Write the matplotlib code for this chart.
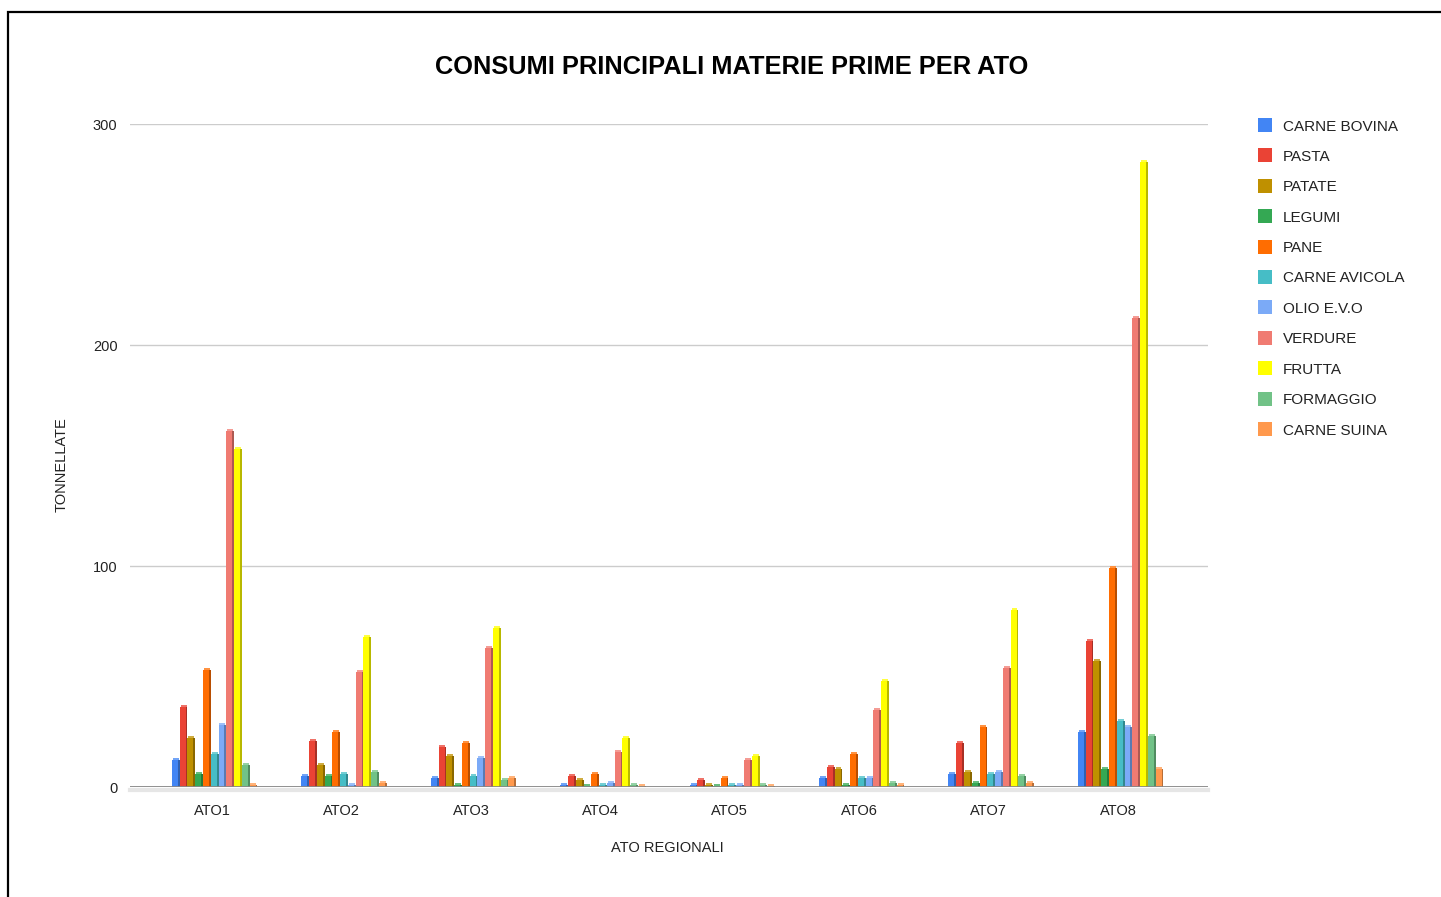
import numpy as np
import matplotlib
matplotlib.use('Agg')
import matplotlib.pyplot as plt
from matplotlib.colors import to_rgb
from matplotlib.patches import Rectangle

plt.rcParams['font.family'] = ['Liberation Sans', 'DejaVu Sans']

ato = ['ATO1', 'ATO2', 'ATO3', 'ATO4', 'ATO5', 'ATO6', 'ATO7', 'ATO8']

carne_bovina = [12, 5, 4, 1, 1, 4, 6, 25]
pasta = [36, 21, 18, 5, 3, 9, 20, 66]
patate = [22, 10, 14, 3, 1, 8, 7, 57]
legumi = [6, 5, 1, 0.5, 0.5, 1, 2, 8]
pane = [53, 25, 20, 6, 4, 15, 27, 99]
carne_avicola = [15, 6, 5, 1, 1, 4, 6, 30]
olio_evo = [28, 1, 13, 2, 1, 4, 7, 27]
verdure = [161, 52, 63, 16, 12, 35, 54, 212]
frutta = [153, 68, 72, 22, 14, 48, 80, 283]
formaggio = [10, 7, 3, 1, 1, 2, 5, 23]
carne_suina = [1, 2, 4, 0.5, 0.5, 1, 2, 8]

series_names = ['CARNE BOVINA', 'PASTA', 'PATATE', 'LEGUMI', 'PANE', 'CARNE AVICOLA',
                'OLIO E.V.O', 'VERDURE', 'FRUTTA', 'FORMAGGIO', 'CARNE SUINA']
series = [carne_bovina, pasta, patate, legumi, pane, carne_avicola,
          olio_evo, verdure, frutta, formaggio, carne_suina]
colors = ['#4285f4', '#ea4335', '#bf9000', '#34a853', '#ff6d01', '#46bdc6',
          '#7baaf7', '#f07b72', '#ffff00', '#71c287', '#ff994d']

fig = plt.figure(figsize=(14.41, 8.97), dpi=100)
W, H = 1441, 897
ax = fig.add_axes([130 / W, 1 - 787 / H, (1208 - 130) / W, (787 - 124) / H])

# frame around the chart
fig.patches.append(Rectangle((8 / W, -0.1), 1.2, 1 - 12 / H + 0.1, transform=fig.transFigure,
                             fill=False, edgecolor='black', linewidth=1.6, zorder=0))

x = np.arange(len(ato))
slot = 0.06
front = 0.046
side = 0.014
cap = 0.9
n = len(series)
for i, (vals, c) in enumerate(zip(series, colors)):
    pos = x + (i - (n - 1) / 2) * slot + 0.02
    rgb = to_rgb(c)
    dark = tuple(v * 0.72 for v in rgb)
    light = tuple(v + (1 - v) * 0.25 for v in rgb)
    ax.bar(pos - side / 2, vals, width=front, color=c, zorder=3, label=series_names[i])
    ax.bar(pos + front / 2, vals, width=side, color=dark, zorder=3)
    # little top face for the 3d look
    ax.bar(pos, [cap] * len(vals), bottom=vals, width=front, color=light, zorder=3)

ax.set_xlim(-0.634, 7.695)
ax.set_ylim(0, 300)
ax.set_yticks([0, 100, 200, 300])
ax.set_xticks(x)
ax.set_xticklabels(ato)
ax.grid(axis='y', color='#cccccc', linewidth=1, zorder=0)
ax.axhline(0, color='#888888', linewidth=2, zorder=4)
ax.axhline(-1.2, color='#e6e6e6', linewidth=3, zorder=1, clip_on=False)
for s in ax.spines.values():
    s.set_visible(False)
ax.tick_params(length=0, labelsize=10.5, colors='#222222', pad=9)
ax.tick_params(axis='x', pad=12)

fig.text(732 / W, 1 - 67 / H, 'CONSUMI PRINCIPALI MATERIE PRIME PER ATO', ha='center', va='center',
         fontsize=18.3, fontweight='bold', color='black')
fig.text(62 / W, 1 - 465 / H, 'TONNELLATE', rotation=90, ha='center', va='center',
         fontsize=10.5, color='#222222')
fig.text(667 / W, 1 - 848 / H, 'ATO REGIONALI', ha='center', va='center',
         fontsize=10.5, color='#222222')

# legend
for i, (name, c) in enumerate(zip(series_names, colors)):
    yy = 1 - (125 + i * 30.4) / H
    fig.patches.append(Rectangle((1258 / W, yy - 7 / H), 14 / W, 14 / H, transform=fig.transFigure,
                                 facecolor=c, edgecolor='none'))
    fig.text(1283 / W, yy - 1.5 / H, name, ha='left', va='center', fontsize=11, color='#222222')

fig.savefig('out.png', dpi=100)
